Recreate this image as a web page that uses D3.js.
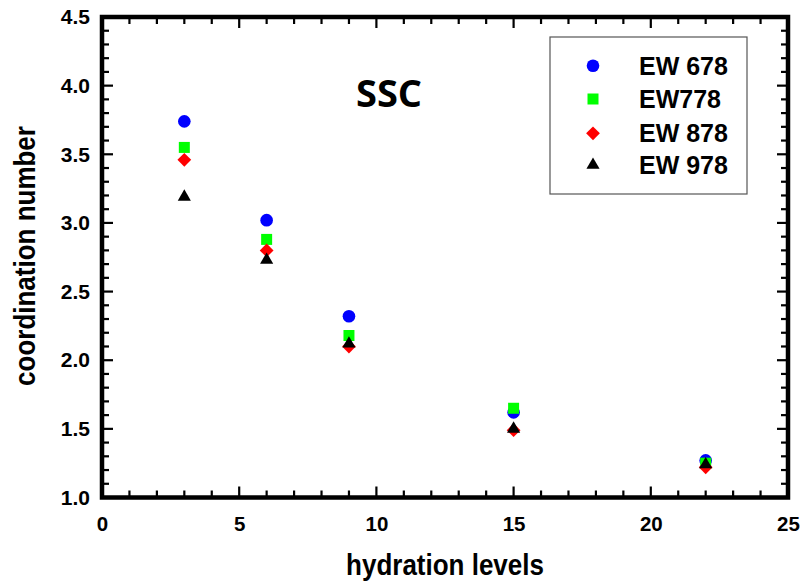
<!DOCTYPE html>
<html><head><meta charset="utf-8">
<script src="https://cdn.jsdelivr.net/npm/d3@7"></script>
<style>body{margin:0;background:#fff}svg{display:block}</style>
</head><body>
<svg id="c" width="807" height="584"></svg>
<script>
const hydration = [3, 6, 9, 15, 22];
const seriesNames = ["EW 678", "EW778", "EW 878", "EW 978"];
const ew678 = [3.74, 3.02, 2.32, 1.62, 1.27];
const ew778 = [3.55, 2.88, 2.18, 1.65, 1.25];
const ew878 = [3.46, 2.80, 2.10, 1.49, 1.22];
const ew978 = [3.19, 2.73, 2.12, 1.50, 1.24];
const xTicks = [0, 5, 10, 15, 20, 25];
const yTicks = [1.0, 1.5, 2.0, 2.5, 3.0, 3.5, 4.0, 4.5];

const series = [
  {name: seriesNames[0], values: ew678, shape: d3.symbolCircle, size: 125, rot: 0, color: "#0000ff"},
  {name: seriesNames[1], values: ew778, shape: d3.symbolSquare, size: 121, rot: 0, color: "#00ff00"},
  {name: seriesNames[2], values: ew878, shape: d3.symbolSquare, size: 95, rot: 45, color: "#ff0000"},
  {name: seriesNames[3], values: ew978, shape: d3.symbolTriangle, size: 75, rot: 0, color: "#000000"}
];

const svg = d3.select("#c");
const L = 102, R = 788, T = 17, B = 497.5;
const x = d3.scaleLinear().domain([0, 25]).range([L, R]);
const y = d3.scaleLinear().domain([1.0, 4.5]).range([B, T]);

const font = "'Liberation Sans', Arial, sans-serif";

const g = svg.append("g");
const xMinor = d3.range(0, 26, 1);
const yMinor = d3.range(10, 46, 1).map(v => v / 10);
xMinor.forEach(v => {
  const major = v % 5 === 0;
  const len = major ? 11 : 7;
  g.append("line").attr("x1", x(v)).attr("x2", x(v)).attr("y1", B).attr("y2", B - len)
    .attr("stroke", "#000").attr("stroke-width", 2.2);
  g.append("line").attr("x1", x(v)).attr("x2", x(v)).attr("y1", T).attr("y2", T + len)
    .attr("stroke", "#000").attr("stroke-width", 2.2);
});
yMinor.forEach(v => {
  const major = Math.round(v * 10) % 5 === 0;
  const len = major ? 11 : 7;
  g.append("line").attr("y1", y(v)).attr("y2", y(v)).attr("x1", L).attr("x2", L + len)
    .attr("stroke", "#000").attr("stroke-width", 2.2);
  g.append("line").attr("y1", y(v)).attr("y2", y(v)).attr("x1", R).attr("x2", R - len)
    .attr("stroke", "#000").attr("stroke-width", 2.2);
});

svg.append("rect").attr("x", L).attr("y", T).attr("width", R - L).attr("height", B - T)
  .attr("fill", "none").attr("stroke", "#000").attr("stroke-width", 4.5);

const xAxis = svg.append("g").attr("transform", `translate(0,${B})`)
  .call(d3.axisBottom(x).tickValues(xTicks).tickSize(0).tickPadding(19).tickFormat(d3.format("d")));
xAxis.select(".domain").remove();
xAxis.selectAll("text").attr("font-family", font).attr("font-weight", "bold").attr("font-size", 20.5).attr("fill", "#000");

const yAxis = svg.append("g").attr("transform", `translate(${L},0)`)
  .call(d3.axisLeft(y).tickValues(yTicks).tickSize(0).tickPadding(12).tickFormat(d3.format(".1f")));
yAxis.select(".domain").remove();
yAxis.selectAll("text").attr("font-family", font).attr("font-weight", "bold").attr("font-size", 21).attr("fill", "#000");

svg.append("text").attr("transform", "translate(445,575) scale(1,1.15)").attr("text-anchor", "middle")
  .attr("font-family", font).attr("font-weight", "bold").attr("font-size", 26).text("hydration levels");
svg.append("text").attr("transform", "translate(35,256) rotate(-90) scale(1,1.15)").attr("text-anchor", "middle")
  .attr("font-family", font).attr("font-weight", "bold").attr("font-size", 26).text("coordination number");

svg.append("text").attr("x", 389).attr("y", 107).attr("text-anchor", "middle")
  .attr("font-family", "'Open Sans', 'Noto Sans', sans-serif").attr("font-weight", "bold").attr("font-size", 38).text("SSC");

series.forEach(s => {
  svg.append("g").selectAll("path").data(s.values).join("path")
    .attr("transform", (d, i) => `translate(${x(hydration[i])},${y(d)}) rotate(${s.rot})`)
    .attr("d", d3.symbol().type(s.shape).size(s.size))
    .attr("fill", s.color);
});

const lg = svg.append("g");
lg.append("rect").attr("x", 550).attr("y", 37).attr("width", 197).attr("height", 157)
  .attr("fill", "#fff").attr("stroke", "#555").attr("stroke-width", 1.2);
const rowY = [65.7, 99, 133.3, 165];
series.forEach((s, i) => {
  lg.append("path").attr("transform", `translate(593,${rowY[i]}) rotate(${s.rot})`)
    .attr("d", d3.symbol().type(s.shape).size(s.size)).attr("fill", s.color);
  lg.append("text").attr("x", 639).attr("y", rowY[i] + 9).attr("font-family", font)
    .attr("font-weight", "bold").attr("font-size", 25).text(s.name);
});
</script>
</body></html>
